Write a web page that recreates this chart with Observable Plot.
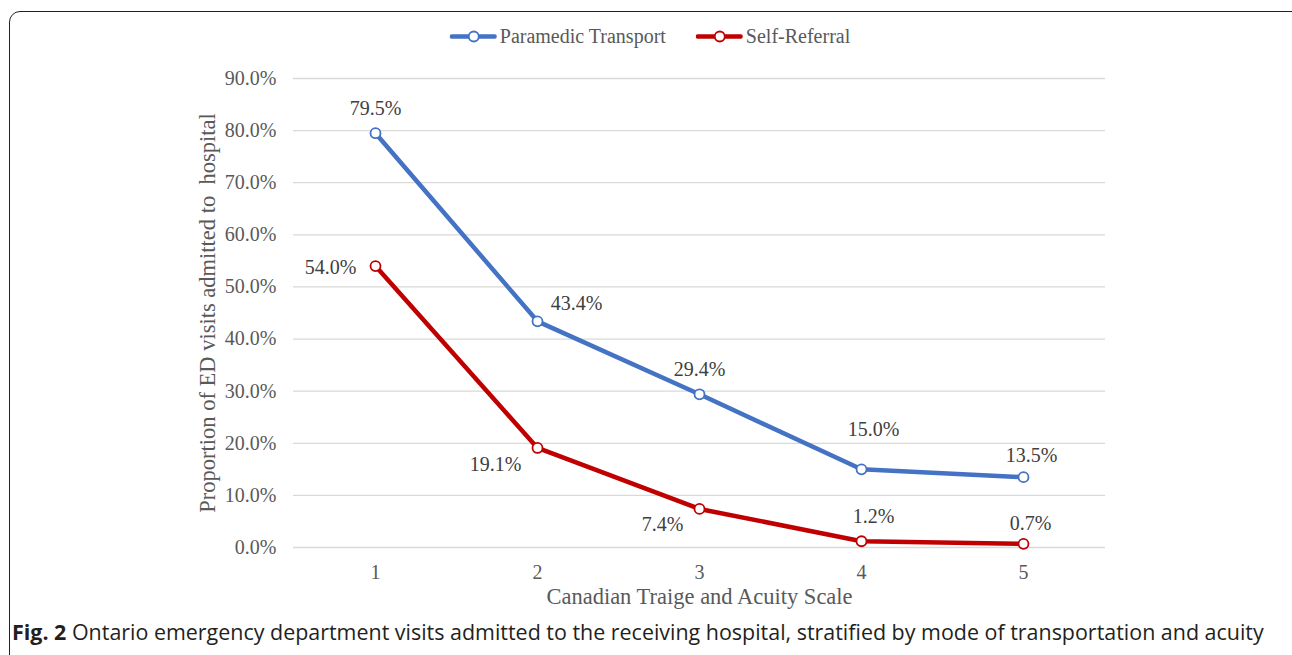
<!DOCTYPE html>
<html>
<head>
<meta charset="utf-8">
<script src="https://cdn.jsdelivr.net/npm/d3@7"></script>
<script src="https://cdn.jsdelivr.net/npm/@observablehq/plot@0.6"></script>
<style>
  html, body { margin: 0; padding: 0; overflow: hidden; background: #fff; width: 1292px; height: 655px; }
  #frame { position: absolute; left: 9px; top: 11px; width: 1300px; height: 720px; border: 1.6px solid #222; border-radius: 11px; box-sizing: border-box; }
  #chart { position: absolute; left: 0; top: 0; }
  #legend { position: absolute; left: 650px; top: 36px; transform: translate(-50%, -50%); display: flex; align-items: center; gap: 30px; font-family: "Liberation Serif", "Times New Roman", serif; font-size: 20px; color: #595959; white-space: nowrap; }
  #legend .item { display: flex; align-items: center; }
  #legend svg { margin-right: 3px; }
  #caption { position: absolute; left: 12px; top: 631px; transform: translateY(-50%); font-family: "Open Sans", "Noto Sans", sans-serif; font-size: 21.45px; color: #231f20; white-space: nowrap; }
  #caption b { font-weight: 700; }
</style>
</head>
<body>
<div id="frame"></div>
<div id="chart"></div>
<div id="legend"></div>
<div id="caption"><b>Fig. 2</b> Ontario emergency department visits admitted to the receiving hospital, stratified by mode of transportation and acuity</div>
<script>
// ---- data ----
const categories = ["1", "2", "3", "4", "5"];
const seriesNames = ["Paramedic Transport", "Self-Referral"];
const paramedicValues = [79.5, 43.4, 29.4, 15.0, 13.5];
const selfReferralValues = [54.0, 19.1, 7.4, 1.2, 0.7];
const yTicks = [0, 10, 20, 30, 40, 50, 60, 70, 80, 90];
const xTitle = "Canadian Traige and Acuity Scale";
const yTitle = "Proportion of ED visits admitted to  hospital";

// ---- styles ----
const colors = ["#4472C4", "#C00000"];
// label placement (dx, dy) per point, per series
const labelOffsets = [
  [[0, -25], [39, -18], [0, -25], [12, -40], [8, -22]],
  [[-45, 1], [-42, 17], [-37, 16], [12, -25], [7, -20]]
];

const series = [paramedicValues, selfReferralValues].map((vals, s) =>
  categories.map((c, i) => ({ series: seriesNames[s], cat: c, value: vals[i], i, s }))
);

const serif = "Liberation Serif, Times New Roman, serif";
const marks = [
  Plot.ruleY(yTicks, { stroke: "#d9d9d9", strokeWidth: 1.3 }),
  Plot.axisX({ tickSize: 0, tickPadding: 17, fontSize: 20, fontFamily: serif, fill: "#595959", label: null }),
  Plot.axisY({ ticks: yTicks, tickSize: 0, tickPadding: 17, fontSize: 20, fontFamily: serif, fill: "#595959", tickFormat: d => d.toFixed(1) + "%", label: null }),
  Plot.text([xTitle], { frameAnchor: "bottom", dy: 56, text: d => d, fontSize: 22.5, fontFamily: serif, fill: "#595959" }),
  Plot.text([yTitle], { frameAnchor: "left", textAnchor: "middle", dx: -86, rotate: -90, text: d => d, fontSize: 22.5, fontFamily: serif, fill: "#595959" })
];
series.forEach((data, s) => {
  marks.push(Plot.line(data, { x: "cat", y: "value", stroke: colors[s], strokeWidth: 4.5, strokeLinejoin: "round", strokeLinecap: "round" }));
  marks.push(Plot.dot(data, { x: "cat", y: "value", r: 5, fill: "white", stroke: colors[s], strokeWidth: 1.8 }));
  data.forEach((d, i) => {
    marks.push(Plot.text([d], { x: "cat", y: "value", text: d => d.value.toFixed(1) + "%", dx: labelOffsets[s][i][0], dy: labelOffsets[s][i][1], fontSize: 20, fontFamily: serif, fill: "#404040" }));
  });
});

const chart = Plot.plot({
  width: 1292,
  height: 620,
  marginLeft: 293,
  marginRight: 187,
  marginTop: 78,
  marginBottom: 73,
  style: { fontFamily: serif, background: "transparent" },
  x: { type: "point", domain: categories, padding: 0.5 },
  y: { domain: [0, 90] },
  marks
});
document.getElementById("chart").appendChild(chart);

// legend
const legend = document.getElementById("legend");
seriesNames.forEach((name, s) => {
  const item = document.createElement("div");
  item.className = "item";
  item.innerHTML = `<svg width="47" height="14" viewBox="0 0 47 14"><line x1="2" y1="7" x2="45" y2="7" stroke="${colors[s]}" stroke-width="4.5" stroke-linecap="round"/><circle cx="24" cy="7" r="5" fill="white" stroke="${colors[s]}" stroke-width="1.8"/></svg><span>${name}</span>`;
  legend.appendChild(item);
});
</script>
</body>
</html>
